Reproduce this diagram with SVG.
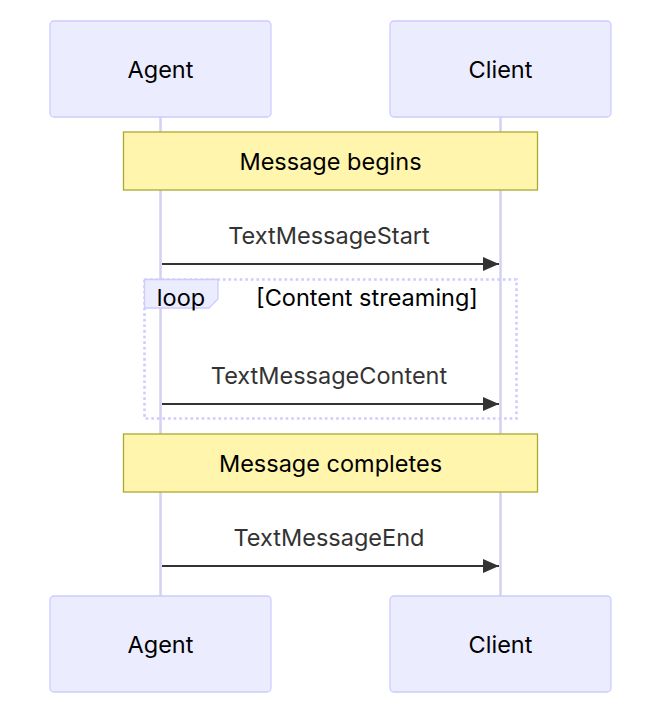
<svg xmlns="http://www.w3.org/2000/svg" width="660" height="715" viewBox="0 0 660 715">
<defs>
<style>
text{font-family:Inter,"Liberation Sans",sans-serif;}
.actor{fill:#ECECFF;stroke:#CCCCFF;stroke-width:1.3;}
.atext{font-size:23.5px;fill:#000;text-anchor:middle;dominant-baseline:central;}
.life{stroke:#D4D0F0;stroke-width:2.5;}
.note{fill:#FFF5AD;stroke:#AAAA33;stroke-width:1.3;}
.ntext{font-size:23.5px;fill:#000;text-anchor:middle;dominant-baseline:central;}
.mtext{font-size:23.5px;fill:#333;text-anchor:middle;dominant-baseline:central;}
.msg{stroke:#333;stroke-width:2;fill:none;}
.loop{fill:none;stroke:#CCCCFF;stroke-width:2.6;stroke-dasharray:2.6 3;}
.lbox{fill:#ECECFF;stroke:#CCCCFF;stroke-width:1.3;}
</style>
<marker id="arrow" markerWidth="16" markerHeight="14" refX="16" refY="7" orient="auto" markerUnits="userSpaceOnUse">
<path d="M0,0 L16,7 L0,14 z" fill="#333"/>
</marker>
</defs>
<rect width="660" height="715" fill="#fff"/>
<g id="lifelines">
<line class="life" x1="160.5" y1="117" x2="160.5" y2="596"/>
<line class="life" x1="500.5" y1="117" x2="500.5" y2="596"/>
</g>
<g id="agent-top"><rect class="actor" x="50" y="21" width="221" height="96" rx="4"/><text class="atext" x="160.5" y="69.5">Agent</text></g>
<g id="client-top"><rect class="actor" x="390" y="21" width="221" height="96" rx="4"/><text class="atext" x="500.5" y="69.5">Client</text></g>
<g id="note-begins"><rect class="note" x="123.5" y="132" width="414" height="58"/><text class="ntext" x="330.5" y="161">Message begins</text></g>
<g id="loop">
<rect class="loop" x="144.5" y="279.5" width="372" height="139"/>
<path class="lbox" d="M144.5,279.5 H218 V299 L209,308 H144.5 Z"/>
<text class="ntext" x="181" y="297">loop</text>
<text class="ntext" x="367" y="297">[Content streaming]</text>
</g>
<g id="note-completes"><rect class="note" x="123.5" y="434" width="414" height="58"/><text class="ntext" x="330.5" y="463">Message completes</text></g>
<g id="connectors">
<text class="mtext" x="329" y="235">TextMessageStart</text>
<line class="msg" x1="162" y1="264" x2="499" y2="264" marker-end="url(#arrow)"/>
<text class="mtext" x="329" y="375">TextMessageContent</text>
<line class="msg" x1="162" y1="404" x2="499" y2="404" marker-end="url(#arrow)"/>
<text class="mtext" x="329" y="537">TextMessageEnd</text>
<line class="msg" x1="162" y1="566" x2="499" y2="566" marker-end="url(#arrow)"/>
</g>
<g id="agent-bottom"><rect class="actor" x="50" y="596" width="221" height="96" rx="4"/><text class="atext" x="160.5" y="644.5">Agent</text></g>
<g id="client-bottom"><rect class="actor" x="390" y="596" width="221" height="96" rx="4"/><text class="atext" x="500.5" y="644.5">Client</text></g>
</svg>
